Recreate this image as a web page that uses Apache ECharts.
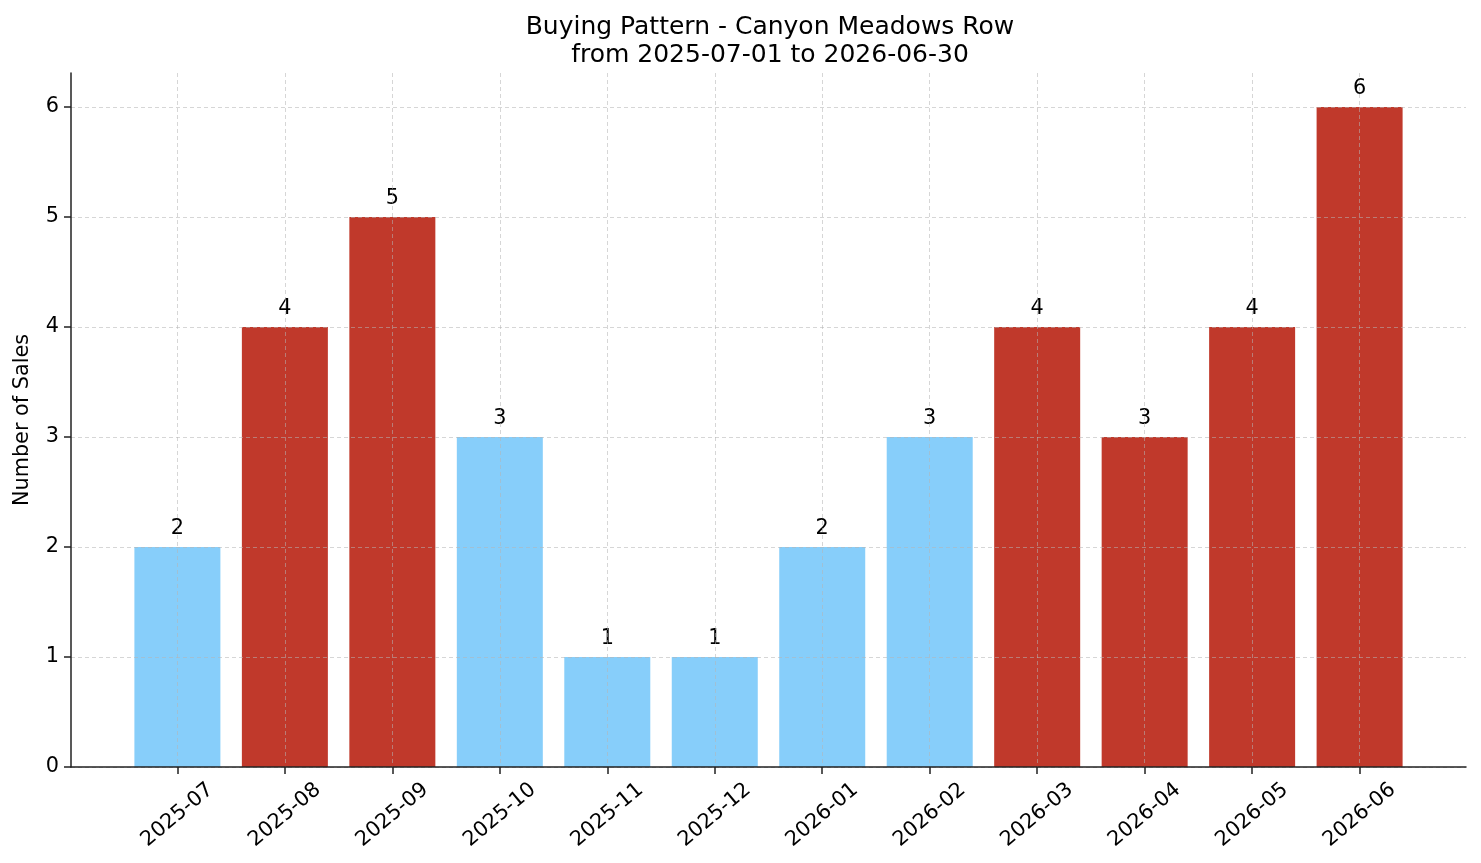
<!DOCTYPE html>
<html>
<head>
<meta charset="utf-8">
<script src="https://cdn.jsdelivr.net/npm/echarts@6/dist/echarts.min.js"></script>
<style>
  html, body { margin: 0; padding: 0; background: #fff; }
  #chart { width: 1481px; height: 863px; }
</style>
</head>
<body>
<div id="chart"></div>
<script>
// months shown on the x axis
var months = ['2025-07', '2025-08', '2025-09', '2025-10', '2025-11', '2025-12',
              '2026-01', '2026-02', '2026-03', '2026-04', '2026-05', '2026-06'];
// number of sales per month
var sales = [2, 4, 5, 3, 1, 1, 2, 3, 4, 3, 4, 6];
// which bars are highlighted (red) vs normal (light blue)
var highlighted = [false, true, true, false, false, false, false, false, true, true, true, true];
var yTicks = [0, 1, 2, 3, 4, 5, 6];

var RED = '#c0392b';
var BLUE = '#87cefa';
var FONT = 'DejaVu Sans';

var chart = echarts.init(document.getElementById('chart'));

// bar data as [index, value] on a numeric x axis
var barData = sales.map(function (v, i) {
    return {
        value: [i, v],
        itemStyle: { color: highlighted[i] ? RED : BLUE }
    };
});
var tickPositions = months.map(function (m, i) { return i; });

var gridLine = { show: true, lineStyle: { type: [4, 3], color: 'rgba(180,180,180,0.55)', width: 1 } };

var option = {
    animation: false,
    title: {
        text: 'Buying Pattern - Canyon Meadows Row\nfrom 2025-07-01 to 2026-06-30',
        left: 765,
        textAlign: 'center',
        top: 8,
        textStyle: { fontFamily: FONT, fontSize: 25, fontWeight: 'normal', color: '#000', lineHeight: 28 }
    },
    grid: { left: 71, right: 15, top: 73, bottom: 96 },
    xAxis: {
        type: 'value',
        min: -0.99,
        max: 11.99,
        z: 5,
        axisLine: { show: true, onZero: false, lineStyle: { color: '#222', width: 1.5 } },
        axisTick: { show: true, length: 7, customValues: tickPositions, lineStyle: { color: '#222', width: 1.5 } },
        axisLabel: {
            customValues: tickPositions,
            rotate: 40,
            align: 'center',
            verticalAlign: 'middle',
            margin: 48,
            fontFamily: FONT,
            fontSize: 20.8,
            color: '#000',
            formatter: function (v) { return months[Math.round(v)] || ''; }
        },
        splitLine: gridLine
    },
    yAxis: {
        type: 'value',
        min: 0,
        max: 6.31,
        z: 5,
        name: 'Number of Sales',
        nameLocation: 'middle',
        nameGap: 38,
        nameTextStyle: { fontFamily: FONT, fontSize: 20.8, color: '#000' },
        axisLine: { show: true, onZero: false, lineStyle: { color: '#222', width: 1.5 } },
        axisTick: { show: true, length: 7, customValues: yTicks, lineStyle: { color: '#222', width: 1.5 } },
        axisLabel: { customValues: yTicks, margin: 12, fontFamily: FONT, fontSize: 20.8, color: '#000' },
        splitLine: gridLine
    },
    series: [{
        type: 'bar',
        data: barData,
        barWidth: 86,
        label: {
            show: true,
            position: 'top',
            distance: 8,
            fontFamily: FONT,
            fontSize: 20.8,
            color: '#000',
            formatter: function (p) { return p.value[1]; }
        }
    }]
};

chart.setOption(option);
</script>
</body>
</html>
